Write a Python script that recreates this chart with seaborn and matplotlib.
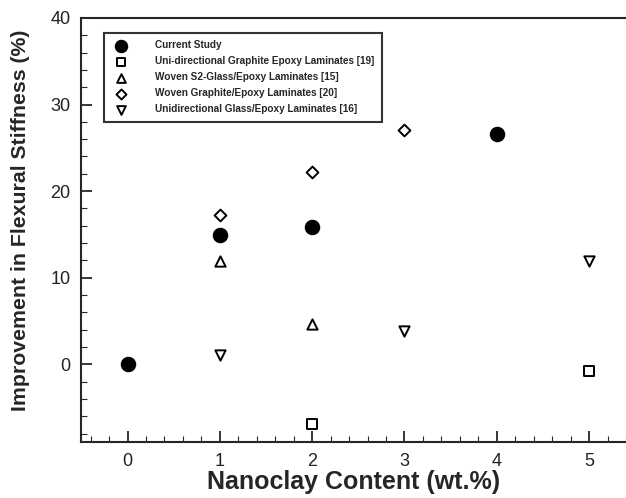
"""Flexural stiffness improvement vs nanoclay content."""
import matplotlib
matplotlib.use("Agg")
import numpy as np
import pandas as pd
import matplotlib.pyplot as plt
import seaborn as sns
from matplotlib.ticker import MultipleLocator

# ---- data ----
series_names = [
    "Current Study",
    "Uni-directional Graphite Epoxy Laminates [19]",
    "Woven S2-Glass/Epoxy Laminates [15]",
    "Woven Graphite/Epoxy Laminates [20]",
    "Unidirectional Glass/Epoxy Laminates [16]",
]
current_x = [0, 1, 2, 4]
current_y = [0.0, 14.9, 15.9, 26.6]
uni_graphite_x = [2, 5]
uni_graphite_y = [-6.9, -0.8]
woven_s2_x = [1, 2]
woven_s2_y = [11.9, 4.6]
woven_graphite_x = [1, 2, 3]
woven_graphite_y = [17.2, 22.2, 27.0]
uni_glass_x = [1, 3, 5]
uni_glass_y = [1.1, 3.9, 11.9]

xs = [current_x, uni_graphite_x, woven_s2_x, woven_graphite_x, uni_glass_x]
ys = [current_y, uni_graphite_y, woven_s2_y, woven_graphite_y, uni_glass_y]

df = pd.concat([pd.DataFrame({"series": n, "x": x, "y": y})
                for n, x, y in zip(series_names, xs, ys)], ignore_index=True)

markers = ["o", "s", "^", "D", "v"]
faces = ["black", "white", "white", "white", "white"]
sizes = [95, 45, 55, 36, 55]

sns.set_style("ticks")
plt.rcParams["font.family"] = ["Liberation Sans", "DejaVu Sans"]

fig = plt.figure(figsize=(6.26, 4.98), dpi=100)
ax = fig.add_axes([0.13, 0.112, 0.87, 0.852])

for name, m, fc, s in zip(series_names, markers, faces, sizes):
    sns.scatterplot(data=df[df["series"] == name], x="x", y="y", marker=m,
                    s=s, facecolor=fc, edgecolor="black", linewidth=1.4,
                    label=name, ax=ax, zorder=3)

ax.set_xlim(-0.5, 5.4)
ax.set_ylim(-9, 40)
ax.xaxis.set_major_locator(MultipleLocator(1))
ax.xaxis.set_minor_locator(MultipleLocator(0.2))
ax.yaxis.set_major_locator(MultipleLocator(10))
ax.yaxis.set_minor_locator(MultipleLocator(2))
ax.tick_params(which="major", direction="in", length=8, width=1.3,
               labelsize=13, labelcolor="#222222", pad=8)
ax.tick_params(which="minor", direction="in", length=4, width=0.8)
ax.tick_params(top=False, right=False, which="both")
for sp in ["left", "bottom", "top"]:
    ax.spines[sp].set_linewidth(1.5)
ax.spines["right"].set_visible(False)

ax.set_xlabel("Nanoclay Content (wt.%)", fontsize=18, fontweight="bold",
              labelpad=0)
ax.set_ylabel("Improvement in Flexural Stiffness (%)", fontsize=15.3,
              fontweight="bold")
ax.yaxis.set_label_coords(-0.094, 0.524)

leg = ax.legend(loc="upper left", bbox_to_anchor=(0.041, 0.965),
                borderaxespad=0, frameon=True, fancybox=False,
                prop={"size": 7.2, "weight": "bold"}, handletextpad=2.4,
                borderpad=0.75, labelspacing=0.6, markerscale=0.85)
leg.get_frame().set_edgecolor("black")
leg.get_frame().set_linewidth(1.5)

fig.savefig("out.png", dpi=100)
